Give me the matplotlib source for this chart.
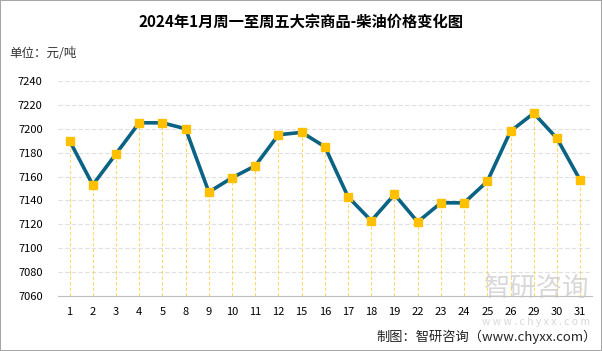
import matplotlib.pyplot as plt

plt.rcParams['font.family'] = ['Noto Sans CJK SC', 'DejaVu Sans']

# 交易日 (2024年1月)
days = ['1', '2', '3', '4', '5', '8', '9', '10', '11', '12', '15', '16',
        '17', '18', '19', '22', '23', '24', '25', '26', '29', '30', '31']
# 柴油价格 元/吨
prices = [7190, 7153, 7179, 7205, 7205, 7200, 7147, 7159, 7169, 7195, 7197, 7185,
          7143, 7123, 7145, 7122, 7138, 7138, 7156, 7198, 7213, 7192, 7157]
yticks = list(range(7060, 7241, 20))

fig = plt.figure(figsize=(6.02, 3.51), dpi=100)
fig.patch.set_edgecolor('#A6A6A6')
fig.patch.set_linewidth(1.2)
ax = fig.add_axes([0.0963, 0.1567, 0.8867, 0.6125])

# 垂直虚线
ax.vlines(days, 7060, prices, colors='#FFC000', linestyles=(0, (3, 2)),
          linewidth=0.8, alpha=0.6, zorder=1)
ax.plot(days, prices, color='#0B6384', linewidth=2.6, zorder=2)
ax.plot(days, prices, 's', color='#FFC000', markersize=6, zorder=3)

ax.set_xlim(-0.5, len(days) - 0.5)
ax.set_ylim(7060, 7240)
ax.set_yticks(yticks)
ax.grid(axis='y', color='#E0E0E0', linestyle=(0, (4, 2)), linewidth=0.8)
ax.set_axisbelow(True)
for s in ['top', 'right', 'left']:
    ax.spines[s].set_visible(False)
ax.spines['bottom'].set_color('#BFBFBF')
ax.tick_params(axis='both', length=0, labelsize=8, colors='black')
ax.tick_params(axis='y', pad=11)
ax.tick_params(axis='x', pad=8)

fig.text(0.5, 0.937, '2024年1月周一至周五大宗商品-柴油价格变化图',
         ha='center', va='center', fontsize=11, fontweight='bold')
fig.text(0.015, 0.849, '单位：元/吨', ha='left', va='center', fontsize=9,
         color='#333333')

# 水印
fig.text(0.98, 0.178, '智研咨询', ha='right', va='center', fontsize=19,
         color='#C8C8C8', alpha=0.7)
fig.text(0.98, 0.083, 'w w w . c h y x x . c o m', ha='right', va='center',
         fontsize=7.5, color='#C8C8C8', alpha=0.7)

fig.text(0.992, 0.04, '制图：智研咨询（www.chyxx.com）', ha='right', va='center',
         fontsize=9.5, color='#222222')

fig.savefig('out.png', dpi=100)
